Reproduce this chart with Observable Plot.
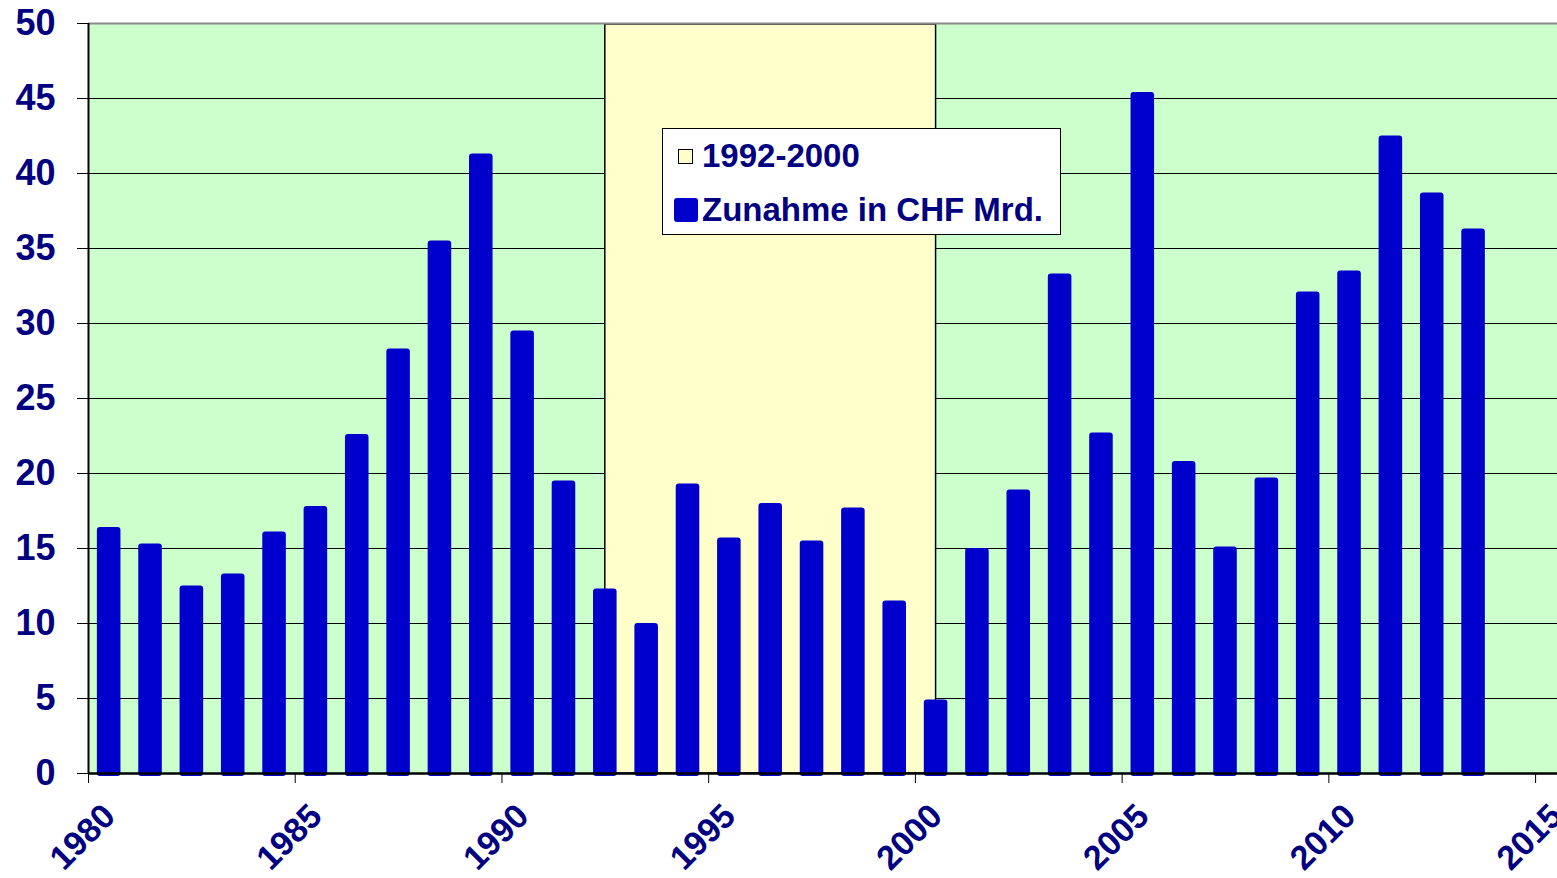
<!DOCTYPE html>
<html>
<head>
<meta charset="utf-8">
<script src="https://cdn.jsdelivr.net/npm/d3@7"></script>
<script src="https://cdn.jsdelivr.net/npm/@observablehq/plot@0.6"></script>
<style>
  html, body { margin: 0; padding: 0; background: white; }
  #wrap { position: relative; width: 1557px; height: 878px; overflow: hidden; }
  #legend {
    position: absolute; left: 662px; top: 128px; width: 399px; height: 107px;
    background: white; border: 1.5px solid black; box-sizing: border-box;
    font-family: "Liberation Sans", Arial, sans-serif; font-weight: bold;
    font-size: 33px; color: #000080;
  }
  .item { position: absolute; left: 0; display: flex; align-items: center; white-space: nowrap; }
  .sw1 { display: inline-block; width: 15px; height: 15px; background: #FFFFCC; border: 1.5px solid black; margin-left: 15px; margin-right: 9px; box-sizing: border-box; }
  .sw2 { display: inline-block; width: 24px; height: 24px; background: #0000CC; border-radius: 3px; margin-left: 11px; margin-right: 4px; }
</style>
</head>
<body>
<div id="wrap">
  <div id="chart"></div>
  <div id="legend">
    <div class="item" style="top:8px;"><span class="sw1"></span><span>1992-2000</span></div>
    <div class="item" style="top:62px;"><span class="sw2"></span><span>Zunahme in CHF Mrd.</span></div>
  </div>
</div>
<script>
const years = [1980, 1981, 1982, 1983, 1984, 1985, 1986, 1987, 1988, 1989,
               1990, 1991, 1992, 1993, 1994, 1995, 1996, 1997, 1998, 1999,
               2000, 2001, 2002, 2003, 2004, 2005, 2006, 2007, 2008, 2009,
               2010, 2011, 2012, 2013];
const values = [16.4, 15.3, 12.5, 13.3, 16.1, 17.8, 22.6, 28.3, 35.5, 41.3,
                29.5, 19.5, 12.3, 10.0, 19.3, 15.7, 18.0, 15.5, 17.7, 11.5,
                4.9, 15.0, 18.9, 33.3, 22.7, 45.4, 20.8, 15.1, 19.7, 32.1,
                33.5, 42.5, 38.7, 36.3];
const period = [{start: 1992, end: 2000}];
const xTicks = [1980, 1985, 1990, 1995, 2000, 2005, 2010, 2015];
const yTicks = [0, 5, 10, 15, 20, 25, 30, 35, 40, 45, 50];

const data = years.map((year, i) => ({year, value: values[i]}));
const half = 0.285;

const chart = Plot.plot({
  width: 1557,
  height: 878,
  marginLeft: 88,
  marginRight: 0,
  marginTop: 23,
  marginBottom: 105,
  style: {
    fontFamily: "'Liberation Sans', Arial, sans-serif",
    fontWeight: "bold",
    fontSize: "34px",
    background: "white",
    overflow: "visible"
  },
  x: {domain: [1980, 2015.53], axis: null, label: null},
  y: {domain: [0, 50], axis: null, label: null},
  marks: [
    Plot.frame({fill: "#CCFFCC", stroke: "none"}),
    Plot.gridY(yTicks.filter(d => d > 0 && d < 50), {stroke: "black", strokeOpacity: 1, strokeWidth: 1}),
    Plot.rect(period, {
      x1: d => d.start + 0.5, x2: d => d.end + 0.5, y1: 0, y2: 50,
      fill: "#FFFFCC", stroke: "black", strokeWidth: 1.5, insetTop: 1
    }),
    Plot.rectY(data, {
      x1: d => d.year + 0.5 - half, x2: d => d.year + 0.5 + half,
      y1: 0, y2: "value", fill: "#0000CC", rx: 3, insetBottom: -3
    }),
    Plot.ruleY([50], {stroke: "#8a8a8a", strokeWidth: 2}),
    Plot.ruleX([1980], {stroke: "black", strokeWidth: 2}),
    Plot.ruleY([0], {stroke: "black", strokeWidth: 2.5}),
    Plot.axisY({
      ticks: yTicks, tickSize: 11, tickPadding: 22, tickFormat: d => String(d),
      stroke: "black", fill: "#000080", fontSize: 36, label: null
    }),
    // x tick marks (no text)
    Plot.axisX({
      ticks: xTicks, tickSize: 10, tickFormat: () => "",
      stroke: "black", label: null
    }),
    // x tick labels (rotated, shifted)
    Plot.axisX({
      ticks: xTicks, tickSize: 0, tickPadding: 37, tickRotate: -45, dx: 21,
      tickFormat: d => String(d), fill: "#000080", fontSize: 34, label: null
    })
  ]
});
document.getElementById("chart").appendChild(chart);
</script>
</body>
</html>
